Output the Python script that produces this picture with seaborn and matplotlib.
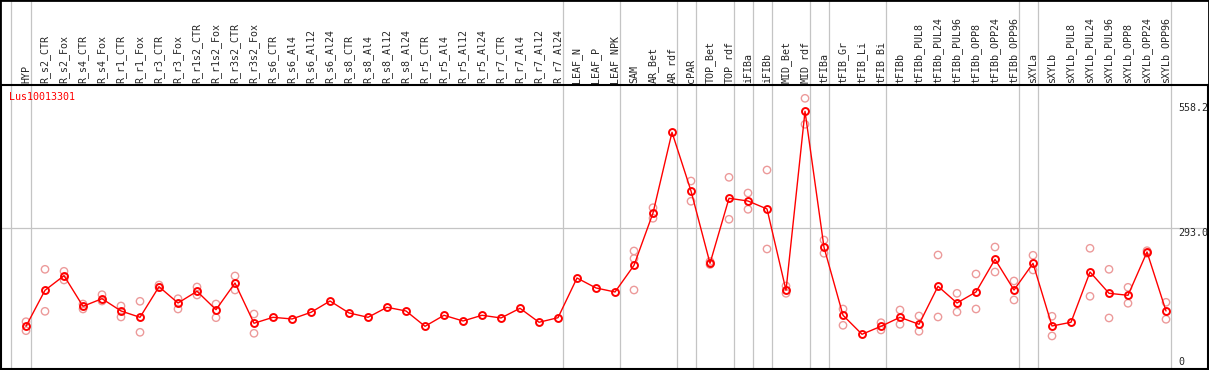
import numpy as np
import pandas as pd
import matplotlib
matplotlib.use("Agg")
import matplotlib.pyplot as plt
import seaborn as sns
from matplotlib.patches import Rectangle
from matplotlib.transforms import blended_transform_factory

gene = "Lus10013301"

samples = [
    "HYP", "R_s2_CTR", "R_s2_Fox", "R_s4_CTR", "R_s4_Fox", "R_r1_CTR", "R_r1_Fox",
    "R_r3_CTR", "R_r3_Fox", "R_r1s2_CTR", "R_r1s2_Fox", "R_r3s2_CTR", "R_r3s2_Fox",
    "R_s6_CTR", "R_s6_Al4", "R_s6_Al12", "R_s6_Al24", "R_s8_CTR", "R_s8_Al4",
    "R_s8_Al12", "R_s8_Al24", "R_r5_CTR", "R_r5_Al4", "R_r5_Al12", "R_r5_Al24",
    "R_r7_CTR", "R_r7_Al4", "R_r7_Al12", "R_r7_Al24", "LEAF_N", "LEAF_P", "LEAF_NPK",
    "SAM", "AR_Bet", "AR_rdf", "cPAR", "TOP_Bet", "TOP_rdf", "iFIBa", "iFIBb",
    "MID_Bet", "MID_rdf", "tFIBa", "tFIB_Gr", "tFIB_Li", "tFIB_Bi", "tFIBb",
    "tFIBb_PUL8", "tFIBb_PUL24", "tFIBb_PUL96", "tFIBb_OPP8", "tFIBb_OPP24",
    "tFIBb_OPP96", "sXYLa", "sXYLb", "sXYLb_PUL8", "sXYLb_PUL24", "sXYLb_PUL96",
    "sXYLb_OPP8", "sXYLb_OPP24", "sXYLb_OPP96",
]

# mean expression per sample
means = [
    85.5, 161.7, 192.6, 127.8, 143.9, 117.9, 104.5, 169.3, 134.8, 159.6,
    120.6, 177.1, 91.9, 104.5, 101.0, 115.1, 139.0, 113.7, 104.5, 125.7,
    117.9, 85.5, 108.8, 96.7, 108.8, 103.1, 123.6, 94.0, 103.7, 187.7,
    166.6, 158.1, 214.6, 325.3, 496.1, 371.9, 218.8, 356.4, 350.7, 333.8,
    161.7, 540.5, 252.7, 108.8, 68.6, 85.5, 104.5, 89.7, 170.2, 134.8,
    158.1, 227.3, 162.3, 218.8, 86.1, 94.0, 200.4, 155.3, 151.1, 242.8, 117.9,
]

# individual replicates (only the ones that stand apart from the mean)
replicates = [
    [95.2, 76.2], [206.1, 117.2], [201.9, 183.5], [132.7, 122.1], [152.4, 139.0],
    [128.5, 105.2], [138.4, 72.8], [172.9, 168.0], [143.9, 122.1], [168.7, 151.7],
    [132.7, 103.7], [192.0, 162.3], [111.5, 70.7], [], [],
    [], [], [], [], [],
    [], [], [], [], [],
    [], [], [], [], [],
    [], [], [244.9, 229.0, 162.3], [336.5, 314.1], [],
    [393.0, 350.1], [222.6, 216.3], [400.8, 312.0], [367.6, 333.1], [416.3, 249.1],
    [170.8, 155.3], [568.0, 513.0], [268.1, 240.0], [122.1, 87.6], [],
    [93.1, 77.7], [120.0, 89.7], [107.3, 74.9], [236.4, 105.2], [155.3, 115.8],
    [196.2, 122.1], [253.3, 200.4], [181.4, 141.2], [235.8, 204.7], [106.7, 65.0],
    [], [250.6, 149.0], [206.1, 103.1], [168.0, 134.2], [245.5, 240.0], [136.3, 100.3],
]

# sample groups, separated by grey lines
group_sizes = [1, 28, 3, 3, 1, 2, 1, 1, 2, 1, 3, 7, 1, 7]

ytick_vals = [0, 293.0, 558.2]
ytick_labels = ["0", "293.0", "558.2"]

mean_df = pd.DataFrame({"pos": np.arange(len(samples)), "value": means})
rep_df = pd.DataFrame(
    [(i, v) for i, vals in enumerate(replicates) for v in vals],
    columns=["pos", "value"],
)

sns.set_style("white")
plt.rcParams["font.family"] = ["DejaVu Sans Mono"]

W, H = 1209, 370
fig = plt.figure(figsize=(W / 100, H / 100), dpi=100)
ax = fig.add_axes([1 / W, 1 / H, 1207 / W, 284 / H])

ax.set_xlim(-1.316, 62.21)
ax.set_ylim(-4.9, 596.2)

# separators and grid
last_idx = np.cumsum(group_sizes) - 1
for b in [-0.8] + list(last_idx + 0.25):
    ax.axvline(b, ymin=0, ymax=369 / 284, color="#c4c4c4", lw=0.9,
               clip_on=False, zorder=1)
ax.axhline(293.0, color="#c4c4c4", lw=0.9, zorder=1)

sns.scatterplot(data=rep_df, x="pos", y="value", marker="o", s=28,
                facecolors="none", edgecolor="#ec9a9a", linewidth=1.0,
                ax=ax, zorder=3, legend=False)
sns.lineplot(data=mean_df, x="pos", y="value", color="red", lw=1.0,
             marker="o", ms=5.0, mfc="none", mec="red", mew=1.4,
             ax=ax, zorder=4)

ax.set_xlabel("")
ax.set_ylabel("")
ax.set_yticks([])
ax.set_xticks(mean_df["pos"])
ax.set_xticklabels(samples, rotation=90, fontsize=7.2)
ax.xaxis.tick_top()
ax.tick_params(axis="x", length=0, pad=1.5)

for s in ax.spines.values():
    s.set_color("black")
    s.set_linewidth(1.5)

trans = blended_transform_factory(ax.transAxes, ax.transData)
for v, lab in zip(ytick_vals, ytick_labels):
    ax.text(1177 / 1207, v, lab, transform=trans, fontsize=7.2,
            ha="left", va="bottom" if v == 0 else "top")

fig.text(9 / W, 1 - 97 / H, gene, color="red", fontsize=7.2,
         ha="left", va="center")

fig.add_artist(Rectangle((0, 0), 1, 1, transform=fig.transFigure,
                         fill=False, edgecolor="black", lw=2))

fig.savefig("out.png", dpi=100)
